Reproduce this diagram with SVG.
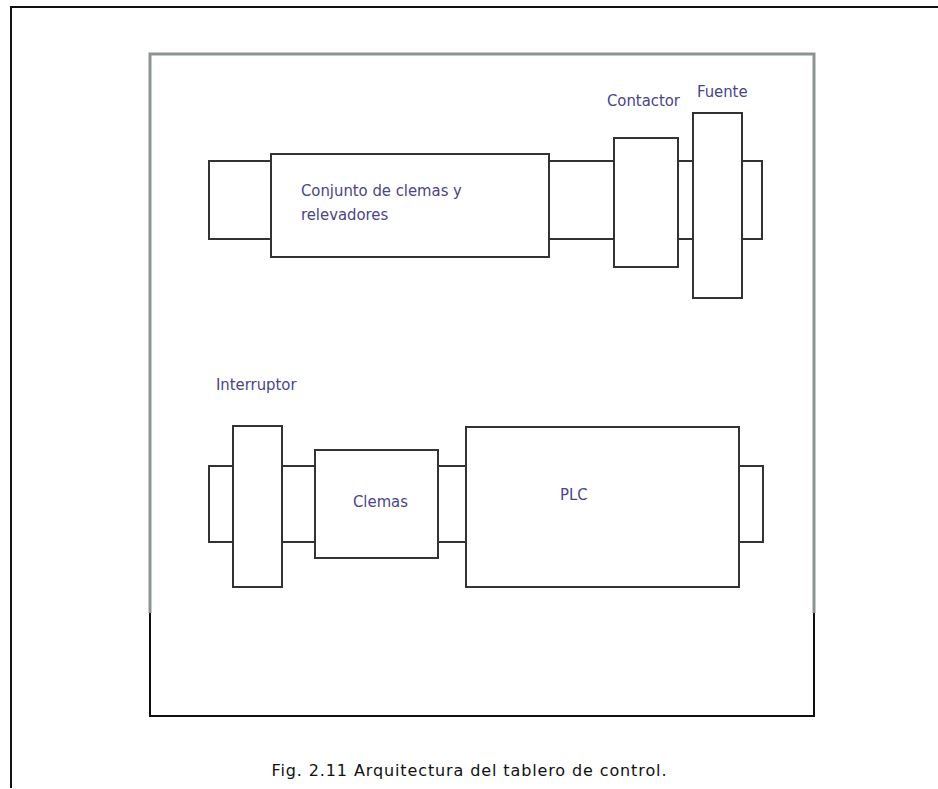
<svg xmlns="http://www.w3.org/2000/svg" width="938" height="789" viewBox="0 0 938 789">
<style>
.c{fill:none;stroke:#333;stroke-width:2}
.l{font-family:"DejaVu Sans Condensed","DejaVu Sans",sans-serif;font-size:16.5px;fill:#4a4488}
</style>
<rect width="938" height="789" fill="#fff"/>
<g id="frame">
<path d="M11 788V7H938" fill="none" stroke="#111" stroke-width="2"/>
<path d="M150 613V54H814V613" fill="none" stroke="#8c9494" stroke-width="3"/>
<path d="M150 613V716H814V613" fill="none" stroke="#111" stroke-width="2"/>
</g>
<g id="connectors">
<path class="c" d="M270 161H209V239H270"/>
<path class="c" d="M549 161H614M549 239H614"/>
<path class="c" d="M678 161H693M678 239H693"/>
<path class="c" d="M742 161H762V239H742"/>
<path class="c" d="M233 466H209V542H233"/>
<path class="c" d="M282 466H315M282 542H315"/>
<path class="c" d="M438 466H466M438 542H466"/>
<path class="c" d="M739 466H763V542H739"/>
</g>
<g id="conjunto"><rect class="c" x="271" y="154" width="278" height="103"/>
<text class="l" x="301" y="196">Conjunto de clemas y</text><text class="l" x="301" y="220">relevadores</text></g>
<g id="contactor"><rect class="c" x="614" y="138" width="64" height="129"/><text class="l" x="607" y="106">Contactor</text></g>
<g id="fuente"><rect class="c" x="693" y="113" width="49" height="185"/><text class="l" x="697" y="97">Fuente</text></g>
<g id="interruptor"><rect class="c" x="233" y="426" width="49" height="161"/><text class="l" x="216" y="390">Interruptor</text></g>
<g id="clemas"><rect class="c" x="315" y="450" width="123" height="108"/><text class="l" x="353" y="507">Clemas</text></g>
<g id="plc"><rect class="c" x="466" y="427" width="273" height="160"/><text class="l" x="560" y="500">PLC</text></g>
<text x="469" y="776" text-anchor="middle" font-family="'DejaVu Sans',sans-serif" font-size="16" textLength="395" fill="#111">Fig. 2.11 Arquitectura del tablero de control.</text>
</svg>
